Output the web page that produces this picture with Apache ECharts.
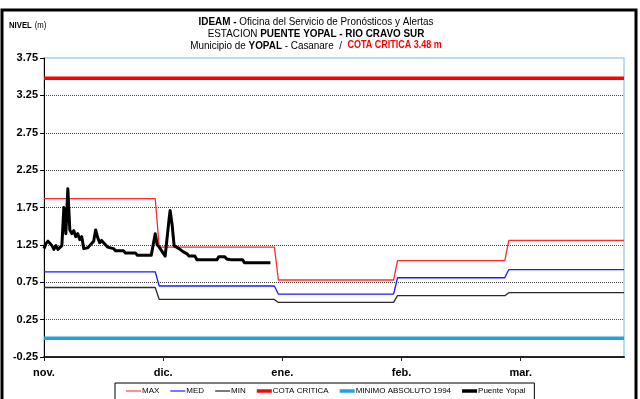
<!DOCTYPE html>
<html>
<head>
<meta charset="utf-8">
<script src="https://cdn.jsdelivr.net/npm/echarts@6/dist/echarts.min.js"></script>
<style>
  html, body { margin: 0; padding: 0; background: #fff; }
  #chart { width: 640px; height: 399px; }
</style>
</head>
<body>
<div id="chart"></div>
<script>
// Month tick labels (one every 30 day-units on the x axis)
const mesesEtiquetas = ['nov.', 'dic.', 'ene.', 'feb.', 'mar.'];
const diasPorMes = 30;
const diaFinal = 146;

// Day index at which each new monthly statistic takes effect
const cambioMes = [29, 59, 89, 117];

// Monthly historical statistics (m)
const maxMensual = [1.87, 1.22, 0.78, 1.04, 1.31];
const medMensual = [0.89, 0.70, 0.59, 0.81, 0.92];
const minMensual = [0.68, 0.52, 0.48, 0.57, 0.61];

// Reference levels (m)
const cotaCritica = 3.48;
const minimoAbsoluto = 0.0;

// Observed level at Puente Yopal: day index and level (m)
const diasObs = [0, 0.5, 1, 1.5, 2, 2.5, 3, 3.5, 4, 4.5, 5, 5.5, 6, 6.5, 7, 7.5, 8, 8.5, 9, 9.5,
  10, 10.5, 11, 11.5, 12, 12.5, 13, 13.5, 14, 14.5, 15, 15.5, 16, 16.5, 17.5, 18, 20, 20.5, 23, 23.5,
  27, 28, 28.5, 29, 29.5, 30, 30.5, 31, 31.5, 31.75, 32.25, 32.75, 33.25, 34, 35, 36, 36.5, 38, 38.5,
  43.5, 44, 45.5, 46, 47, 50, 50.5, 57];
const nivelObs = [1.20, 1.27, 1.30, 1.27, 1.24, 1.19, 1.24, 1.19, 1.19, 1.24, 1.75, 1.40, 2.00, 1.45, 1.40, 1.44, 1.36, 1.40, 1.32, 1.36,
  1.20, 1.19, 1.21, 1.24, 1.22, 1.30, 1.45, 1.35, 1.28, 1.31, 1.28, 1.29, 1.22, 1.20, 1.20, 1.17, 1.17, 1.14, 1.14, 1.11,
  1.11, 1.40, 1.25, 1.22, 1.18, 1.17, 1.10, 1.08, 1.60, 1.71, 1.52, 1.24, 1.22, 1.20, 1.16, 1.13, 1.10, 1.10, 1.05,
  1.05, 1.09, 1.09, 1.06, 1.05, 1.05, 1.01, 1.01];

const fuente = "'Liberation Sans', Arial, sans-serif";

// Build a stepped line from monthly values; each change ramps over one day
function escalonado(valores) {
  const pts = [];
  valores.forEach((v, i) => {
    const inicio = i === 0 ? 0 : cambioMes[i - 1];
    const fin = i < valores.length - 1 ? cambioMes[i] - 1 : diaFinal;
    pts.push([inicio, v], [fin, v]);
  });
  return pts;
}

const horizontal = v => [[0, v], [diaFinal, v]];

// Rich-text styles for the heading (condensed with scaleX)
const richTitulo = {
  b: { fontFamily: fuente, fontSize: 11, fontWeight: 'bold', fill: '#000' },
  n: { fontFamily: fuente, fontSize: 11, fontWeight: 'normal', fill: '#000' },
  r: { fontFamily: fuente, fontSize: 10, fontWeight: 'bold', fill: '#ff0000' }
};

function lineaTitulo(texto, y) {
  return {
    type: 'text', silent: true, x: 316, y: y, scaleX: 0.9,
    style: { text: texto, rich: richTitulo, align: 'center', verticalAlign: 'top', fill: '#000' }
  };
}

// Thin and thick line glyphs for the legend
const iconoFino = 'path://M0,0H15V1.3H0Z';
const iconoGrueso = 'path://M0,0H15V3.5H0Z';

const chart = echarts.init(document.getElementById('chart'), null, { renderer: 'canvas' });

const serieBase = { type: 'line', symbol: 'none', silent: true, animation: false };

chart.setOption({
  backgroundColor: '#fff',
  animation: false,
  graphic: [
    {
      type: 'rect', silent: true,
      shape: { x: 2, y: 10, width: 634, height: 400 },
      style: { fill: 'none', stroke: '#000', lineWidth: 3 }
    },
    lineaTitulo('{b|IDEAM - }{n|Oficina del Servicio de Pronósticos y Alertas}', 16),
    lineaTitulo('{n|ESTACION }{b|PUENTE YOPAL - RIO CRAVO SUR}', 28),
    lineaTitulo('{n|Municipio de }{b|YOPAL}{n| - Casanare  /  }{r|COTA CRITICA ' + cotaCritica.toFixed(2) + ' m}', 40),
    {
      type: 'text', silent: true, x: 9, y: 20, scaleX: 0.86,
      style: {
        text: '{b|NIVEL} {n|(m)}', verticalAlign: 'top',
        rich: {
          b: { fontFamily: fuente, fontSize: 9, fontWeight: 'bold', fill: '#000' },
          n: { fontFamily: fuente, fontSize: 9, fontWeight: 'normal', fill: '#000' }
        }
      }
    }
  ],
  legend: {
    top: 383,
    left: 115,
    padding: [4, 9, 8, 11],
    borderColor: '#000',
    borderWidth: 1,
    itemWidth: 15,
    itemHeight: 8,
    itemGap: 11,
    symbolKeepAspect: true,
    textStyle: { fontFamily: fuente, fontSize: 8, color: '#000', padding: [0, 0, 0, -4] },
    data: [
      { name: 'MAX', icon: iconoFino, itemStyle: { color: '#ff5050' } },
      { name: 'MED', icon: iconoFino, itemStyle: { color: '#3030ff' } },
      { name: 'MIN', icon: iconoFino, itemStyle: { color: '#333' } },
      { name: 'COTA CRITICA', icon: iconoGrueso, itemStyle: { color: '#ff0000' } },
      { name: 'MINIMO ABSOLUTO 1994', icon: iconoGrueso, itemStyle: { color: '#22a3d3' } },
      { name: 'Puente Yopal', icon: iconoGrueso, itemStyle: { color: '#000' } }
    ]
  },
  grid: {
    left: 44, right: 16, top: 58, bottom: 42,
    show: true,
    borderColor: '#9fd5e6',
    borderWidth: 1.5
  },
  xAxis: {
    type: 'value',
    min: 0,
    max: diaFinal,
    interval: diasPorMes,
    axisLine: { show: true, onZero: false, lineStyle: { color: '#222', width: 2 } },
    axisTick: { show: true, length: 4, lineStyle: { color: '#222' } },
    splitLine: { show: false },
    axisLabel: {
      showMaxLabel: false,
      margin: 10,
      fontFamily: fuente,
      fontSize: 11,
      fontWeight: 'bold',
      color: '#000',
      formatter: v => mesesEtiquetas[Math.round(v / diasPorMes)] || ''
    }
  },
  yAxis: {
    type: 'value',
    min: -0.25,
    max: 3.75,
    interval: 0.5,
    axisLine: { show: true, onZero: false, lineStyle: { color: '#000', width: 1 } },
    axisTick: { show: true, length: 4, lineStyle: { color: '#000' } },
    splitLine: {
      show: true,
      showMinLine: false,
      showMaxLine: false,
      lineStyle: { color: '#444', type: [1, 1], width: 1 }
    },
    axisLabel: {
      margin: 6,
      fontFamily: fuente,
      fontSize: 11,
      fontWeight: 'bold',
      color: '#000',
      formatter: v => v.toFixed(2)
    }
  },
  series: [
    Object.assign({}, serieBase, { name: 'MAX', data: escalonado(maxMensual), lineStyle: { color: '#ff2a2a', width: 1.3 }, itemStyle: { color: '#ff2a2a' }, z: 3 }),
    Object.assign({}, serieBase, { name: 'MED', data: escalonado(medMensual), lineStyle: { color: '#1a1aff', width: 1.3 }, itemStyle: { color: '#1a1aff' }, z: 3 }),
    Object.assign({}, serieBase, { name: 'MIN', data: escalonado(minMensual), lineStyle: { color: '#2a2a2a', width: 1.3 }, itemStyle: { color: '#2a2a2a' }, z: 3 }),
    Object.assign({}, serieBase, { name: 'COTA CRITICA', data: horizontal(cotaCritica), lineStyle: { color: '#ff0000', width: 3.5 }, itemStyle: { color: '#ff0000' }, z: 4 }),
    Object.assign({}, serieBase, { name: 'MINIMO ABSOLUTO 1994', data: horizontal(minimoAbsoluto), lineStyle: { color: '#22a3d3', width: 3.5 }, itemStyle: { color: '#22a3d3' }, z: 4 }),
    Object.assign({}, serieBase, { name: 'Puente Yopal', data: diasObs.map((d, i) => [d, nivelObs[i]]), lineStyle: { color: '#000', width: 3, join: 'round' }, itemStyle: { color: '#000' }, z: 5 })
  ]
});
</script>
</body>
</html>
